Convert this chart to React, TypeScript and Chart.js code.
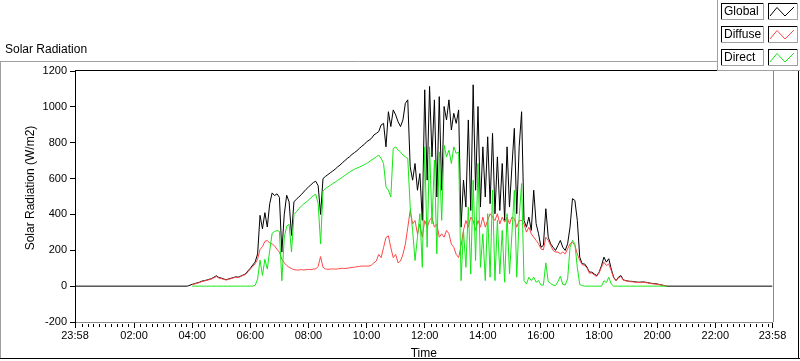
import React, { useEffect, useRef } from 'react';
import { Chart, registerables } from 'chart.js';

Chart.register(...registerables);

// x axis in minutes after midnight: 23:58 (previous day) .. 23:58
const AXIS_START_MIN = -2;
const AXIS_END_MIN = 1438;
const MAJOR_TICK_MIN = [-2, 120, 240, 360, 480, 600, 720, 840, 960, 1080, 1200, 1320, 1438];
const MAJOR_TICK_LABELS = ['23:58', '02:00', '04:00', '06:00', '08:00', '10:00', '12:00', '14:00', '16:00', '18:00', '20:00', '22:00', '23:58'];
const MINOR_TICK_STEP_MIN = 12;

const Y_MIN = -200;
const Y_MAX = 1200;
const Y_STEP = 200;

// samples every 5 minutes starting at 04:00
const SAMPLE_START_MIN = 240;
const SAMPLE_STEP_MIN = 5;
const NIGHT_VALUE = 0;

const SERIES_NAMES = ['Global', 'Diffuse', 'Direct'];
const SERIES_COLORS = ['#000000', '#ff4646', '#14e614'];

const GLOBAL = [
  10, 14, 18, 22, 28, 31, 34, 38, 42, 50, 58, 48,
  45, 40, 36, 40, 44, 48, 52, 50, 56, 62, 68, 85,
  100, 118, 135, 180, 395, 320, 410, 330, 460, 520, 505, 515,
  495, 190, 400, 507, 470, 283, 470, 485, 497, 510, 525, 540,
  553, 565, 578, 585, 560, 400, 600, 612, 622, 632, 642, 652,
  665, 675, 688, 700, 712, 722, 735, 745, 755, 768, 780, 790,
  805, 814, 824, 843, 852, 862, 899, 908, 777, 973, 890, 983,
  955, 917, 890, 927, 1020, 1039, 666, 591, 684, 535, 628, 367,
  1095, 591, 1114, 721, 1039, 497, 1057, 535, 1002, 927, 1039, 871,
  964, 908, 983, 329, 591, 441, 927, 422, 1123, 535, 1002, 441,
  777, 497, 833, 460, 852, 404, 721, 422, 684, 367, 777, 441,
  666, 880, 404, 777, 973, 367, 329, 385, 311, 535, 348, 292,
  217, 227, 432, 273, 236, 217, 199, 227, 255, 217, 199, 236,
  329, 488, 478, 367, 162, 124, 124, 106, 78, 78, 68, 59,
  78, 115, 162, 134, 153, 96, 50, 31, 50, 59, 35, 31,
  28, 27, 26, 24, 22, 22, 24, 22, 20, 17, 15, 14,
  12, 9, 6, 3, 0,
];

const DIFFUSE = [
  8, 12, 16, 20, 26, 29, 32, 36, 40, 47, 54, 45,
  42, 38, 34, 38, 42, 46, 50, 48, 54, 60, 65, 80,
  95, 110, 125, 150, 205, 220, 250, 255, 240, 235, 225, 205,
  190, 150, 130, 115, 105, 98, 92, 90, 90, 92, 90, 92,
  93, 92, 95, 96, 110, 165, 105, 96, 94, 95, 96, 95,
  96, 98, 100, 98, 100, 102, 104, 106, 108, 110, 112, 112,
  112, 112, 117, 130, 140, 177, 159, 215, 271, 281, 215, 159,
  177, 130, 140, 177, 234, 327, 422, 347, 366, 292, 347, 273,
  366, 329, 366, 385, 329, 347, 273, 292, 273, 311, 292, 234,
  217, 177, 159, 224, 311, 366, 329, 385, 366, 311, 366, 329,
  385, 329, 366, 404, 385, 366, 404, 347, 385, 357, 385, 347,
  385, 376, 329, 366, 366, 347, 301, 329, 292, 273, 255, 236,
  208, 202, 273, 255, 227, 199, 190, 190, 180, 190, 180, 208,
  236, 245, 227, 180, 143, 120, 115, 102, 72, 74, 62, 54,
  74, 106, 134, 115, 124, 87, 46, 31, 46, 54, 33, 30,
  26, 25, 24, 22, 20, 20, 22, 20, 18, 15, 13, 12,
  10, 8, 5, 2, 0,
];

const DIRECT = [
  0, 0, 0, 0, 0, 0, 0, 0, 0, 0, 0, 0,
  0, 0, 0, 0, 0, 0, 0, 0, 0, 0, 0, 0,
  0, 0, 5, 40, 145, 60, 150, 95, 200, 295, 305, 310,
  305, 30, 270, 335, 345, 190, 400, 415, 432, 445, 458, 468,
  480, 492, 505, 512, 460, 236, 530, 545, 553, 562, 572, 580,
  590, 598, 608, 618, 628, 636, 645, 652, 658, 664, 670, 678,
  684, 693, 703, 712, 721, 731, 712, 684, 554, 535, 497, 768,
  777, 759, 749, 731, 721, 712, 441, 311, 143, 273, 404, 105,
  777, 217, 777, 348, 703, 180, 749, 367, 786, 721, 759, 684,
  777, 740, 749, 31, 311, 105, 441, 68, 591, 143, 684, 105,
  292, 31, 404, 50, 535, 31, 367, 68, 311, 22, 404, 68,
  292, 535, 50, 385, 572, 31, 12, 50, 31, 50, 22, 31,
  6, 6, 130, 25, 15, 6, 3, 25, 55, 10, 6, 40,
  217, 255, 236, 105, 10, 3, 0, 0, 0, 0, 0, 0,
  0, 0, 30, 20, 50, 12, 0, 0, 0, 0, 0, 0,
  0, 0, 0, 0, 0, 0, 0, 0, 0, 0, 0, 0,
  0, 0, 0, 0, 0,
];

const FONT = '"Liberation Sans", Arial, sans-serif';

function toPoints(values: number[]) {
  return values.map((y, i) => ({ x: SAMPLE_START_MIN + i * SAMPLE_STEP_MIN, y }));
}

function hline(ctx: CanvasRenderingContext2D, x1: number, x2: number, y: number, color: string) {
  ctx.strokeStyle = color;
  ctx.beginPath();
  ctx.moveTo(x1, y);
  ctx.lineTo(x2, y);
  ctx.stroke();
}
function vline(ctx: CanvasRenderingContext2D, x: number, y1: number, y2: number, color: string) {
  ctx.strokeStyle = color;
  ctx.beginPath();
  ctx.moveTo(x, y1);
  ctx.lineTo(x, y2);
  ctx.stroke();
}

const framePlugin = {
  id: 'labviewFrame',
  afterDraw(chart: any) {
    const ctx: CanvasRenderingContext2D = chart.ctx;
    const a = chart.chartArea;
    const xs = chart.scales.x;
    ctx.save();
    ctx.lineWidth = 1;

    // outer panel
    hline(ctx, 0, 717, 61.5, '#a0a0a0');
    vline(ctx, 0.5, 61, 359, '#a0a0a0');
    hline(ctx, 0, 800, 358.5, '#000000');
    vline(ctx, 798.5, 70, 359, '#000000');

    // plot frame (top black, right grey)
    hline(ctx, a.left, 717, Math.round(a.top) - 0.5, '#000000');
    vline(ctx, Math.round(a.right) + 0.5, a.top - 1, a.bottom, '#8c8c8c');

    // minor x ticks
    ctx.strokeStyle = '#000000';
    ctx.beginPath();
    for (let m = MINOR_TICK_STEP_MIN; m < AXIS_END_MIN; m += MINOR_TICK_STEP_MIN) {
      if (MAJOR_TICK_MIN.includes(m)) continue;
      const px = Math.round(xs.getPixelForValue(m)) + 0.5;
      ctx.moveTo(px, a.bottom + 2);
      ctx.lineTo(px, a.bottom + 5);
    }
    ctx.stroke();

    // graph caption
    ctx.fillStyle = '#000000';
    ctx.font = `12px ${FONT}`;
    ctx.textAlign = 'left';
    ctx.textBaseline = 'middle';
    ctx.fillText('Solar Radiation', 5, 50);

    // y axis name
    ctx.save();
    ctx.translate(31, 188);
    ctx.rotate(-Math.PI / 2);
    ctx.textAlign = 'center';
    ctx.textBaseline = 'middle';
    ctx.fillText('Solar Radiation (W/m2)', 0, 0);
    ctx.restore();

    // legend panel
    hline(ctx, 717, 800, 70.5, '#a0a0a0');
    vline(ctx, 717.5, 0, 71, '#a0a0a0');
    chart.data.datasets.forEach((ds: any, i: number) => {
      const top = 3 + 23 * i;
      const h = 16;
      // label box
      ctx.fillStyle = '#ffffff';
      ctx.fillRect(721, top, 42, h);
      hline(ctx, 721, 763, top + 0.5, '#000000');
      vline(ctx, 721.5, top, top + h, '#000000');
      hline(ctx, 721, 764, top + h + 0.5, '#a0a0a0');
      vline(ctx, 763.5, top, top + h + 1, '#a0a0a0');
      ctx.fillStyle = '#000000';
      ctx.font = `12px ${FONT}`;
      ctx.textAlign = 'left';
      ctx.textBaseline = 'middle';
      ctx.fillText(ds.label, 724, top + h / 2 + 1);
      // swatch box
      hline(ctx, 768, 797, top + 0.5, '#000000');
      vline(ctx, 768.5, top, top + h, '#000000');
      hline(ctx, 768, 798, top + h + 0.5, '#a0a0a0');
      vline(ctx, 797.5, top, top + h + 1, '#a0a0a0');
      ctx.strokeStyle = ds.borderColor;
      ctx.beginPath();
      ctx.moveTo(770, top + 13);
      ctx.lineTo(777, top + 4.5);
      ctx.lineTo(785, top + 13);
      ctx.lineTo(794, top + 4);
      ctx.stroke();
    });

    ctx.restore();
  },
};

export default function App() {
  const canvasRef = useRef<HTMLCanvasElement | null>(null);

  useEffect(() => {
    const canvas = canvasRef.current;
    if (!canvas) return;

    const globalPoints = [
      { x: AXIS_START_MIN, y: NIGHT_VALUE },
      { x: SAMPLE_START_MIN - 10, y: NIGHT_VALUE },
      ...toPoints(GLOBAL),
      { x: AXIS_END_MIN, y: NIGHT_VALUE },
    ];
    const seriesData = [globalPoints, toPoints(DIFFUSE), toPoints(DIRECT)];
    const orders = [3, 2, 1];

    const chart = new Chart(canvas, {
      type: 'line',
      data: {
        datasets: SERIES_NAMES.map((name, i) => ({
          label: name,
          data: seriesData[i],
          borderColor: SERIES_COLORS[i],
          backgroundColor: SERIES_COLORS[i],
          borderWidth: 1,
          pointRadius: 0,
          tension: 0,
          fill: false,
          order: orders[i],
        })),
      },
      options: {
        responsive: false,
        maintainAspectRatio: false,
        animation: false,
        devicePixelRatio: 1,
        events: [],
        layout: { padding: { top: 71, right: 27.5, bottom: 0, left: 0 } },
        plugins: {
          legend: { display: false },
          tooltip: { enabled: false },
          title: { display: false },
        },
        scales: {
          x: {
            type: 'linear',
            min: AXIS_START_MIN,
            max: AXIS_END_MIN,
            afterBuildTicks: (scale: any) => {
              scale.ticks = MAJOR_TICK_MIN.map((v) => ({ value: v }));
            },
            afterFit: (scale: any) => {
              scale.height = 39;
            },
            ticks: {
              autoSkip: false,
              maxRotation: 0,
              minRotation: 0,
              padding: 1,
              color: '#000000',
              font: { family: FONT, size: 11 },
              callback: (_v: any, i: number) => MAJOR_TICK_LABELS[i],
            },
            grid: {
              drawOnChartArea: false,
              drawTicks: true,
              tickLength: 6,
              tickColor: '#000000',
            },
            border: { display: true, color: '#8c8c8c', width: 1 },
            title: {
              display: true,
              text: 'Time',
              color: '#000000',
              font: { family: FONT, size: 12 },
              padding: { top: 0, bottom: 0 },
            },
          },
          y: {
            type: 'linear',
            min: Y_MIN,
            max: Y_MAX,
            afterFit: (scale: any) => {
              scale.width = 75;
            },
            ticks: {
              stepSize: Y_STEP,
              padding: 3,
              color: '#000000',
              font: { family: FONT, size: 11 },
              callback: (v: any) => String(v),
            },
            grid: {
              drawOnChartArea: false,
              drawTicks: true,
              tickLength: 5,
              tickColor: '#000000',
            },
            border: { display: true, color: '#000000', width: 1 },
          },
        },
      },
      plugins: [framePlugin],
    });

    return () => {
      chart.destroy();
    };
  }, []);

  return (
    <div style={{ position: 'absolute', left: 0, top: 0, width: 800, height: 361, background: '#ffffff' }}>
      <canvas ref={canvasRef} width={800} height={361} style={{ width: 800, height: 361, display: 'block' }} />
    </div>
  );
}
